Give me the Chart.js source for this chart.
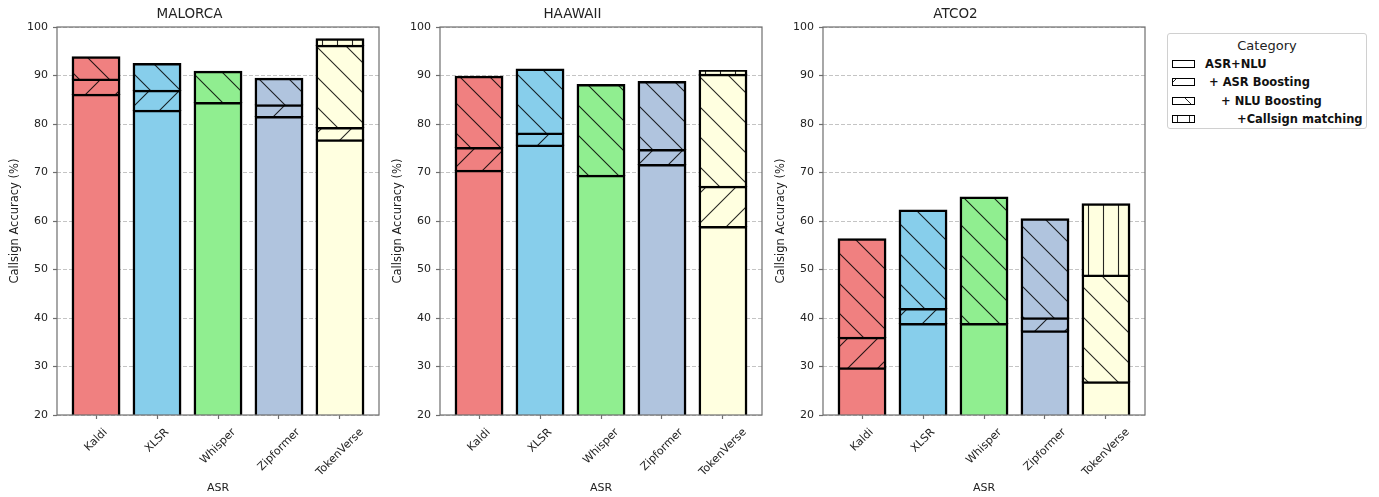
<!DOCTYPE html>
<html>
<head>
<meta charset="utf-8">
<script src="https://cdn.jsdelivr.net/npm/chart.js@4.4.1/dist/chart.umd.min.js"></script>
<style>
  body { margin: 0; background: #fff; width: 1379px; height: 497px; position: relative; overflow: hidden; font-family: 'DejaVu Sans', sans-serif; }
  .panel { position: absolute; top: 0; width: 383px; height: 497px; }
  #legend { position: absolute; left: 1167px; top: 33px; width: 200px; height: 96px; border: 1px solid #d0d0d0; border-radius: 3px; box-sizing: border-box; background: #fff; }
  #legend .ttl { position: absolute; left: 0; width: 100%; top: 4px; text-align: center; font-size: 13px; line-height: 16px; color: #222; }
  #legend .row { position: absolute; left: 4px; height: 14px; }
  #legend canvas { position: absolute; left: 0; top: 3px; }
  #legend span { position: absolute; left: 33px; top: 0; font-size: 11.5px; line-height: 14px; font-weight: bold; color: #111; white-space: pre; }
</style>
</head>
<body>
<div class="panel" style="left:0"><canvas id="c0" width="383" height="497"></canvas></div>
<div class="panel" style="left:383px"><canvas id="c1" width="383" height="497"></canvas></div>
<div class="panel" style="left:766px"><canvas id="c2" width="383" height="497"></canvas></div>
<div id="legend"><div class="ttl">Category</div></div>
<script>
var asrLabels = ['Kaldi', 'XLSR', 'Whisper', 'Zipformer', 'TokenVerse'];
var barColors = ['#F08080', '#87CEEB', '#90EE90', '#B0C4DE', '#FFFFE0'];
var stageLabels = ['ASR+NLU', ' + ASR Boosting', '    + NLU Boosting', '        +Callsign matching'];
var stageHatch = ['', '/', '\\', '|'];

// cumulative accuracy after each stage
var malorcaBase     = [86.0, 82.7, 84.3, 81.4, 76.6];
var malorcaAsr      = [89.1, 86.8, 84.3, 83.8, 79.1];
var malorcaNlu      = [93.7, 92.3, 90.7, 89.3, 96.1];
var malorcaCallsign = [93.7, 92.3, 90.7, 89.3, 97.4];

var haawaiiBase     = [70.3, 75.5, 69.3, 71.5, 58.7];
var haawaiiAsr      = [75.0, 78.0, 69.3, 74.6, 67.0];
var haawaiiNlu      = [89.7, 91.2, 88.0, 88.6, 90.1];
var haawaiiCallsign = [89.7, 91.2, 88.0, 88.6, 90.9];

var atco2Base     = [29.6, 38.7, 38.7, 37.2, 26.7];
var atco2Asr      = [35.9, 41.8, 38.7, 39.9, 26.7];
var atco2Nlu      = [56.2, 62.1, 64.8, 60.3, 48.7];
var atco2Callsign = [56.2, 62.1, 64.8, 60.3, 63.4];

var FONT = "'DejaVu Sans', sans-serif";
var TEXT = '#222';
var SPINE = '#6e6e6e';

function hatchTile(bg, hatch) {
    var size = hatch === '|' ? 15 : 30;
    var c = document.createElement('canvas');
    c.width = size; c.height = size;
    var g = c.getContext('2d');
    g.fillStyle = bg;
    g.fillRect(0, 0, size, size);
    g.strokeStyle = 'rgba(0,0,0,0.85)';
    g.lineWidth = 1.1;
    g.beginPath();
    if (hatch === '/') {
        [0, 30, 60].forEach(function (k) { g.moveTo(-5, k + 5); g.lineTo(35, k - 35); });
    } else if (hatch === '\\') {
        [-30, 0, 30].forEach(function (k) { g.moveTo(-5, k - 5); g.lineTo(35, k + 35); });
    } else if (hatch === '|') {
        g.moveTo(7.5, 0); g.lineTo(7.5, size);
    }
    g.stroke();
    return c;
}

function fillFor(ctx, bg, hatch) {
    if (!hatch) return bg;
    return ctx.createPattern(hatchTile(bg, hatch), 'repeat');
}

var boxPlugin = {
    id: 'box',
    afterDraw: function (chart) {
        var a = chart.chartArea, ctx = chart.ctx;
        ctx.save();
        ctx.strokeStyle = SPINE;
        ctx.lineWidth = 1.2;
        ctx.strokeRect(a.left, a.top, a.right - a.left, a.bottom - a.top);
        // rotated category labels, centred under each tick
        var xs = chart.scales.x;
        ctx.font = '11px ' + FONT;
        ctx.fillStyle = TEXT;
        ctx.textAlign = 'center';
        ctx.textBaseline = 'middle';
        asrLabels.forEach(function (lab, i) {
            var w = ctx.measureText(lab).width;
            var h = 12.8;
            var px = xs.getPixelForValue(i);
            var cy = a.bottom + 11 + (w + h) * 0.7071 / 2;
            ctx.save();
            ctx.translate(px, cy);
            ctx.rotate(-Math.PI / 4);
            ctx.fillText(lab, 0, 0);
            ctx.restore();
        });
        ctx.restore();
    }
};

function makePanel(id, title, levels) {
    var ctx = document.getElementById(id).getContext('2d');
    var datasets = levels.map(function (lv, s) {
        return {
            label: stageLabels[s],
            data: lv.map(function (v, i) {
                var d = s === 0 ? v : v - levels[s - 1][i];
                return { x: i, y: d > 0.05 ? d : null };
            }),
            backgroundColor: barColors.map(function (c) { return fillFor(ctx, c, stageHatch[s]); }),
            borderColor: '#000',
            borderWidth: 2.5,
            borderSkipped: 'start',
            inflateAmount: 1.25,
            categoryPercentage: 1,
            barPercentage: 0.76,
            clip: 0
        };
    });
    return new Chart(ctx, {
        type: 'bar',
        data: { datasets: datasets },
        plugins: [boxPlugin],
        options: {
            responsive: false,
            animation: false,
            layout: { padding: { left: 0, right: 4, top: 0, bottom: 0 } },
            plugins: {
                legend: { display: false },
                tooltip: { enabled: false },
                title: {
                    display: true, text: title, color: TEXT,
                    font: { family: FONT, size: 13.5, weight: 'normal' },
                    padding: { top: 6, bottom: 4.8 }
                }
            },
            scales: {
                x: {
                    type: 'linear', stacked: true, min: -0.64, max: 4.64, offset: false,
                    afterBuildTicks: function (s) { s.ticks = asrLabels.map(function (_, i) { return { value: i }; }); },
                    ticks: { display: false },
                    grid: { offset: false, drawOnChartArea: false, drawTicks: true, tickLength: 4, tickColor: SPINE, tickWidth: 1.2 },
                    border: { display: false },
                    title: { display: true, text: 'ASR', color: TEXT, font: { family: FONT, size: 11 }, padding: { top: 0, bottom: 2.4 } },
                    afterFit: function (s) { s.height = 82; }
                },
                y: {
                    stacked: true, min: 20, max: 100, z: 1,
                    ticks: { stepSize: 10, color: TEXT, font: { family: FONT, size: 11 }, padding: 5 },
                    grid: { color: 'rgba(176,176,176,0.75)', lineWidth: 1, tickLength: 4, tickColor: SPINE, tickWidth: 1.2, tickBorderDash: [] },
                    border: { display: false, dash: [4, 2] },
                    title: { display: true, text: 'Callsign Accuracy (%)', color: TEXT, font: { family: FONT, size: 11.5 }, padding: { top: 7.8, bottom: 0 } },
                    afterFit: function (s) { s.width = 57; }
                }
            }
        }
    });
}

makePanel('c0', 'MALORCA', [malorcaBase, malorcaAsr, malorcaNlu, malorcaCallsign]);
makePanel('c1', 'HAAWAII', [haawaiiBase, haawaiiAsr, haawaiiNlu, haawaiiCallsign]);
makePanel('c2', 'ATCO2', [atco2Base, atco2Asr, atco2Nlu, atco2Callsign]);

// legend, small hatched handles
function drawHandle(g, hatch) {
    g.fillStyle = '#fff';
    g.fillRect(0, 0, 23, 8);
    g.strokeStyle = 'rgba(0,0,0,0.85)';
    g.lineWidth = 1;
    g.beginPath();
    if (hatch === '/') { g.moveTo(0, 5); g.lineTo(5, 0); }
    else if (hatch === '\\') { g.moveTo(12, 0); g.lineTo(20, 8); }
    else if (hatch === '|') { g.moveTo(5.5, 0); g.lineTo(5.5, 8); g.moveTo(17.5, 0); g.lineTo(17.5, 8); }
    g.stroke();
    g.strokeStyle = '#000';
    g.strokeRect(0.5, 0.5, 22, 7);
}

var legend = document.getElementById('legend');
stageLabels.forEach(function (lab, s) {
    var row = document.createElement('div');
    row.className = 'row';
    row.style.top = (23 + s * 18.3) + 'px';
    var c = document.createElement('canvas');
    c.width = 23; c.height = 8;
    drawHandle(c.getContext('2d'), stageHatch[s]);
    var t = document.createElement('span');
    t.textContent = lab;
    row.appendChild(c);
    row.appendChild(t);
    legend.appendChild(row);
});
</script>
</body>
</html>
